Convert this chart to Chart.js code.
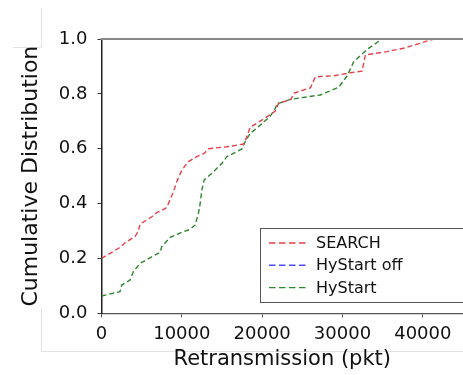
<!DOCTYPE html>
<html>
<head>
<meta charset="utf-8">
<script src="https://cdn.jsdelivr.net/npm/chart.js@4"></script>
<style>
  html, body { margin: 0; padding: 0; background: #fff; }
  #wrap { width: 463px; height: 375px; position: relative; }
</style>
</head>
<body>
<div id="wrap"><canvas id="cdf"></canvas></div>
<script>
'use strict';

const seriesNames = ['SEARCH', 'HyStart off', 'HyStart'];

const searchRetx = [0, 2300, 2930, 4180, 4600, 4800, 6260, 6880, 8000, 8330, 8950, 9370, 10000, 10830,
  11870, 12780, 13320, 15600, 17680, 18100, 18500, 20170, 21630, 22050, 23590, 23920, 26000, 26620,
  28900, 31000, 32440, 32850, 35560, 37840, 39930, 41370];
const searchCdf = [0.2, 0.24, 0.257, 0.28, 0.3, 0.325, 0.352, 0.367, 0.383, 0.4, 0.443, 0.48, 0.522, 0.553,
  0.571, 0.583, 0.6, 0.607, 0.617, 0.644, 0.678, 0.708, 0.737, 0.766, 0.78, 0.802, 0.822, 0.862,
  0.866, 0.877, 0.883, 0.942, 0.954, 0.968, 0.987, 1.0];

// not visible in the plot, only in the legend
const hystartOffRetx = [];
const hystartOffCdf = [];

const hystartRetx = [0, 2300, 2520, 3550, 3970, 4800, 6260, 7290, 7500, 8540, 10000, 11030, 11660, 12070,
  12280, 12490, 12780, 13940, 14990, 15600, 17480, 17890, 18520, 19760, 21010, 21630, 21840, 23500,
  27240, 29530, 30570, 31400, 33060, 34940];
const hystartCdf = [0.063, 0.079, 0.103, 0.121, 0.152, 0.182, 0.206, 0.222, 0.243, 0.277, 0.295, 0.306,
  0.322, 0.365, 0.4, 0.449, 0.486, 0.516, 0.547, 0.571, 0.599, 0.626, 0.656, 0.686, 0.719, 0.747,
  0.763, 0.78, 0.796, 0.824, 0.865, 0.917, 0.962, 1.0];

const xTicks = [0, 10000, 20000, 30000, 40000];
const yTicks = [0, 0.2, 0.4, 0.6, 0.8, 1.0];

const FONT = "'DejaVu Sans', sans-serif";

function toPoints(xs, ys) {
  return xs.map((x, i) => ({ x: x, y: ys[i] }));
}

function makeDataset(label, xs, ys, color) {
  return {
    label: label,
    data: toPoints(xs, ys),
    borderColor: color,
    backgroundColor: color,
    borderWidth: 1.4,
    borderDash: [5, 3],
    pointRadius: 0,
    tension: 0,
    fill: false,
  };
}

// faint crop lines left over around the figure
const framePlugin = {
  id: 'frameLines',
  beforeDraw(chart) {
    const ctx = chart.ctx;
    ctx.save();
    ctx.strokeStyle = '#e2e2e2';
    ctx.lineWidth = 1;
    ctx.beginPath();
    ctx.moveTo(41.5, 8); ctx.lineTo(41.5, 47);
    ctx.moveTo(13, 47.5); ctx.lineTo(41.5, 47.5);
    ctx.moveTo(41.5, 308); ctx.lineTo(41.5, 352);
    ctx.moveTo(41.5, 351.5); ctx.lineTo(463, 351.5);
    ctx.stroke();
    ctx.restore();
  },
  afterDatasetsDraw(chart) {
    const { ctx, chartArea } = chart;
    ctx.save();
    ctx.strokeStyle = '#8a8a8a';
    ctx.lineWidth = 2.2;
    ctx.beginPath();
    ctx.moveTo(chartArea.left - 1, chartArea.top);
    ctx.lineTo(chart.width, chartArea.top);
    ctx.stroke();
    ctx.restore();
  },
};

const legendPlugin = {
  id: 'boxLegend',
  afterDraw(chart) {
    const ctx = chart.ctx;
    const left = 260.5;
    const top = 228.5;
    const rowH = 22.3;
    ctx.save();
    ctx.fillStyle = '#fff';
    ctx.fillRect(left, top, 230, 74);
    ctx.strokeStyle = '#555';
    ctx.lineWidth = 1;
    ctx.strokeRect(left, top, 230, 74);
    ctx.font = '16px ' + FONT;
    ctx.textBaseline = 'middle';
    ctx.textAlign = 'left';
    chart.data.datasets.forEach((ds, i) => {
      const y = top + 14.5 + i * rowH;
      ctx.strokeStyle = ds.borderColor;
      ctx.lineWidth = 1.4;
      ctx.setLineDash([6.5, 3.5]);
      ctx.beginPath();
      ctx.moveTo(left + 8.5, y);
      ctx.lineTo(left + 47, y);
      ctx.stroke();
      ctx.setLineDash([]);
      ctx.fillStyle = '#111';
      ctx.fillText(ds.label, left + 55.5, y + 1);
    });
    ctx.restore();
  },
};

function buildChart() {
  const ctx = document.getElementById('cdf').getContext('2d');
  return new Chart(ctx, {
    type: 'line',
    data: {
      datasets: [
        makeDataset(seriesNames[0], searchRetx, searchCdf, '#e8404a'),
        makeDataset(seriesNames[1], hystartOffRetx, hystartOffCdf, '#4d4dff'),
        makeDataset(seriesNames[2], hystartRetx, hystartCdf, '#2e862e'),
      ],
    },
    options: {
      responsive: true,
      maintainAspectRatio: false,
      animation: false,
      layout: { padding: { top: 39, left: 0, right: 0, bottom: 0 } },
      plugins: {
        legend: { display: false },
        tooltip: { enabled: false },
      },
      scales: {
        x: {
          type: 'linear',
          min: 0,
          max: 45000,
          afterBuildTicks: scale => {
            scale.ticks = xTicks.map(v => ({ value: v }));
          },
          afterFit: scale => { scale.height = 61.7; },
          border: { display: true, color: '#555', width: 1.3 },
          grid: { drawOnChartArea: false, drawTicks: true, tickLength: 4, color: '#555' },
          ticks: {
            padding: 6,
            color: '#111',
            maxRotation: 0,
            font: { family: FONT, size: 18 },
            callback: v => String(v),
          },
          title: {
            display: true,
            text: 'Retransmission (pkt)',
            color: '#111',
            font: { family: FONT, size: 21 },
            padding: { top: 0, bottom: 3 },
          },
        },
        y: {
          type: 'linear',
          min: 0,
          max: 1,
          afterBuildTicks: scale => {
            scale.ticks = yTicks.map(v => ({ value: v }));
          },
          afterFit: scale => { scale.width = 101.5; },
          border: { display: true, color: '#222', width: 1.5 },
          grid: { drawOnChartArea: false, drawTicks: true, tickLength: 4, color: '#333' },
          ticks: {
            padding: 10,
            color: '#111',
            font: { family: FONT, size: 18 },
            callback: v => v.toFixed(1),
          },
          title: {
            display: true,
            text: 'Cumulative Distribution',
            color: '#111',
            font: { family: FONT, size: 22 },
            padding: { top: 18, bottom: 0 },
          },
        },
      },
    },
    plugins: [framePlugin, legendPlugin],
  });
}

document.addEventListener('DOMContentLoaded', buildChart);
</script>
</body>
</html>
